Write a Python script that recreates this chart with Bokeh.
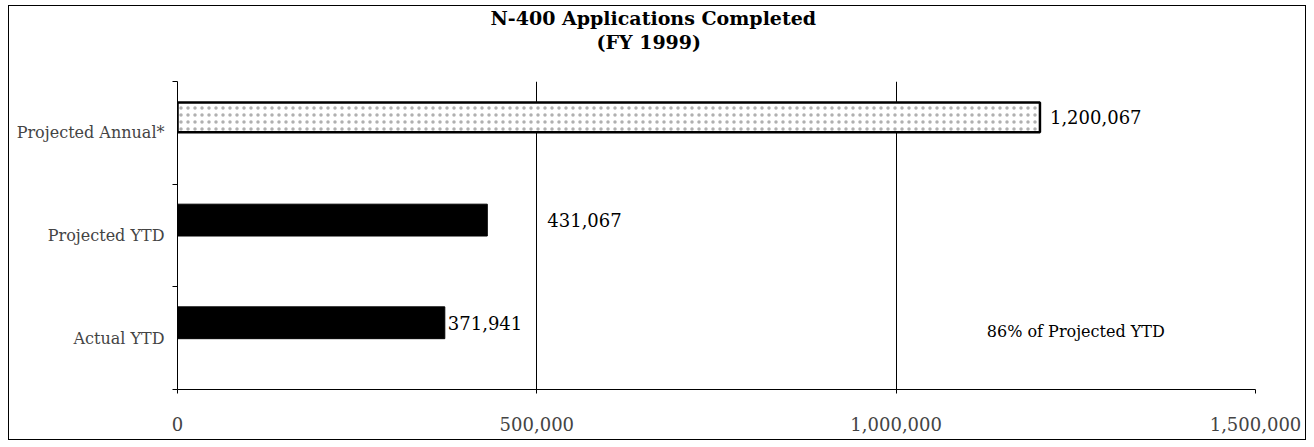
from bokeh.plotting import figure
from bokeh.models import (FixedTicker, NumeralTickFormatter, Label, ColumnDataSource,
                          LabelSet, Range1d, Title)
from bokeh.core.properties import value
from bokeh.embed import file_html
from bokeh.resources import INLINE

categories = ["Actual YTD", "Projected YTD", "Projected Annual*"]
values = [371941, 431067, 1200067]
label_offsets = [3, 60, 10]
x_ticks = [0, 500000, 1000000, 1500000]
grid_ticks = [500000, 1000000]
title_main = "N-400 Applications Completed"
title_sub = "(FY 1999)"

FONT = "DejaVu Serif"
W, H = 1298, 435
BAR_SHIFT = 0.15  # bars sit slightly above the band centre in the original

ypos = [i + 0.5 for i in range(len(categories))]
bar_y = [y + BAR_SHIFT for y in ypos]
labels = [f"{v:,}" for v in values]
pct = round(100 * values[0] / values[1])

p = figure(width=W, height=H, output_backend="svg", toolbar_location=None,
           x_range=Range1d(0, 1500000), y_range=Range1d(0, len(categories)),
           min_border_left=168, min_border_right=52, min_border_bottom=52,
           min_border_top=0, title=None,
           styles={"border": "1.5px solid black", "box-sizing": "border-box",
                   "margin-left": "8px", "margin-top": "5px"})
p.outline_line_color = None
p.background_fill_color = "white"
p.border_fill_color = "white"

solid_src = ColumnDataSource(dict(y=bar_y[:2], right=values[:2]))
p.hbar(y="y", left=0, right="right", height=0.31, source=solid_src,
       fill_color="black", line_color="black")
hat_src = ColumnDataSource(dict(y=bar_y[2:], right=values[2:]))
p.hbar(y="y", left=0, right="right", height=0.29, source=hat_src,
       fill_color="white", line_color="black", line_width=2.5,
       hatch_pattern="dot", hatch_color="#b0b0b0", hatch_scale=7, hatch_weight=1.2)

lab_src = ColumnDataSource(dict(x=values, y=bar_y, text=labels, off=label_offsets))
p.add_layout(LabelSet(x="x", y="y", text="text", x_offset="off", source=lab_src,
                      text_font=value(FONT), text_font_size=value("18px"),
                      text_baseline="middle", text_color="black"))

p.add_layout(Label(x=1250000, y=bar_y[0], y_offset=-9, text=f"{pct}% of Projected YTD",
                   text_font=FONT, text_font_size="16px", text_align="center",
                   text_baseline="middle", text_color="black"))

# titles: first added sits nearest the plot frame
p.add_layout(Title(text=" ", text_font_size="1px", standoff=24), "above")
p.add_layout(Title(text=title_sub, align="left", offset=419, vertical_align="top",
                   standoff=0, text_font=FONT, text_font_size="19px",
                   text_font_style="bold", text_color="black"), "above")
p.add_layout(Title(text=title_main, align="left", offset=313, vertical_align="top",
                   standoff=0, text_font=FONT, text_font_size="19px",
                   text_font_style="bold", text_color="black"), "above")

# x axis
xa = p.xaxis[0]
xa.ticker = FixedTicker(ticks=x_ticks, minor_ticks=[])
xa.formatter = NumeralTickFormatter(format="0,0")
xa.major_label_text_font = FONT
xa.major_label_text_font_size = "18px"
xa.major_label_standoff = 23
xa.major_tick_in = 0
xa.major_tick_out = 4
xa.minor_tick_out = 0
xa.minor_tick_in = 0
xa.axis_line_color = "black"

# y axis
ya = p.yaxis[0]
ya.ticker = FixedTicker(ticks=ypos, minor_ticks=list(range(len(categories) + 1)))
ya.major_label_overrides = {y: c for y, c in zip(ypos, categories)}
ya.major_label_text_font = FONT
ya.major_label_text_font_size = "16px"
ya.major_tick_in = 0
ya.major_tick_out = 0
ya.minor_tick_in = 0
ya.minor_tick_out = 5
ya.minor_tick_line_color = "black"
ya.major_label_standoff = 8
ya.axis_line_color = "black"

p.xgrid.ticker = FixedTicker(ticks=grid_ticks)
p.xgrid.grid_line_color = "black"
p.xgrid.grid_line_width = 1
p.ygrid.grid_line_color = None

open("out.html", "w").write(file_html(p, INLINE))
